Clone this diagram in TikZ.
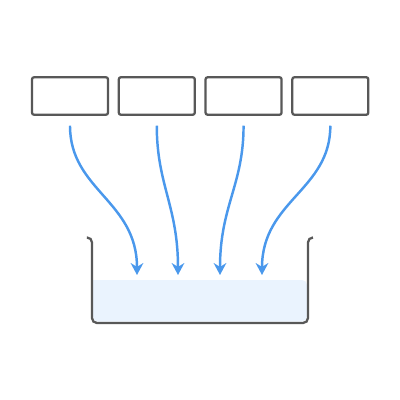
\documentclass[tikz,border=0pt]{standalone}
\usepackage{tikz}
\usetikzlibrary{arrows.meta, positioning}
\definecolor{boxgray}{RGB}{88,88,88}
\definecolor{flowblue}{RGB}{74,152,236}
\definecolor{waterblue}{RGB}{234,243,254}

\begin{document}
\begin{tikzpicture}[
    srcbox/.style={draw=boxgray, line width=0.65pt, rounded corners=0.6pt,
                   minimum width=0.76cm, minimum height=0.375cm, inner sep=0pt},
    flow/.style={draw=flowblue, line width=0.7pt, -{Stealth[length=3.4pt, width=3.6pt]},
                 shorten <=2.8pt},
    tub/.style={draw=boxgray, line width=0.65pt, rounded corners=1.4pt}
]
    \useasboundingbox (0,0) rectangle (4,4);

    % source boxes
    \node[srcbox] (src1) at (0.70,3.04) {};
    \node[srcbox, right=0.085cm of src1] (src2) {};
    \node[srcbox, right=0.085cm of src2] (src3) {};
    \node[srcbox, right=0.085cm of src3] (src4) {};

    % where the arrows drop in
    \coordinate (drop1) at (1.37,1.25);
    \coordinate (drop2) at (1.78,1.25);
    \coordinate (drop3) at (2.20,1.25);
    \coordinate (drop4) at (2.62,1.25);

    % water and basin
    \fill[waterblue, rounded corners=1.4pt] (0.93,1.20) -- (0.93,0.785) -- (3.07,0.785) -- (3.07,1.20) [sharp corners] -- cycle;
    \draw[tub] (0.87,1.625) -- (0.92,1.625) -- (0.92,0.77) -- (3.08,0.77) -- (3.08,1.625) -- (3.13,1.625);

    % flows
    \draw[flow] (src1.south) to[out=-90, in=90, looseness=1.1] (drop1);
    \draw[flow] (src2.south) to[out=-90, in=90, looseness=1.1] (drop2);
    \draw[flow] (src3.south) to[out=-90, in=90, looseness=1.1] (drop3);
    \draw[flow] (src4.south) to[out=-90, in=90, looseness=1.1] (drop4);
\end{tikzpicture}
\end{document}
